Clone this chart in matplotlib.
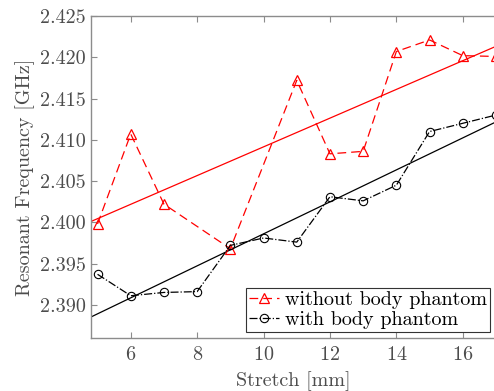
import numpy as np
import matplotlib
matplotlib.use("Agg")
import matplotlib.pyplot as plt

plt.rcParams['font.family'] = 'serif'
plt.rcParams['font.serif'] = ['cmr10']
plt.rcParams['mathtext.fontset'] = 'cm'
plt.rcParams['axes.formatter.use_mathtext'] = True

# measured resonant frequency vs. stretch
stretch_free = [5, 6, 7, 9, 11, 12, 13, 14, 15, 16, 17]
freq_free = [2.3998, 2.4107, 2.4022, 2.3968, 2.4172, 2.4083, 2.4086,
             2.4207, 2.4221, 2.4202, 2.4201]
stretch_body = [5, 6, 7, 8, 9, 10, 11, 12, 13, 14, 15, 16, 17]
freq_body = [2.3937, 2.3911, 2.3915, 2.3916, 2.3972, 2.3981, 2.3976,
             2.4031, 2.4026, 2.4045, 2.4110, 2.4120, 2.4130]

x_ticks = [6, 8, 10, 12, 14, 16]
y_ticks = [2.390, 2.395, 2.400, 2.405, 2.410, 2.415, 2.420, 2.425]

txt = '#4d4d4d'
spine = '#8c8c8c'

fig = plt.figure(figsize=(4.94, 3.91), dpi=100)
ax = fig.add_axes([0.184, 0.136, 0.82, 0.823])

xl = (4.8, 17.0)
xx = np.array([xl[0] - 1, xl[1] + 1])

# linear fits
p_free = np.polyfit(stretch_free, freq_free, 1)
p_body = np.polyfit(stretch_body, freq_body, 1)
ax.plot(xx, np.polyval(p_free, xx), '-', color='red', lw=0.9)
ax.plot(xx, np.polyval(p_body, xx), '-', color='black', lw=0.9)

ax.plot(stretch_free, freq_free, '--', color='red', lw=0.9, dashes=(7, 4),
        marker='^', ms=7, mfc='none', mew=0.9, label='without body phantom')
ax.plot(stretch_body, freq_body, '-.', color='black', lw=0.9,
        marker='o', ms=6, mfc='none', mew=0.8, label='with body phantom')

ax.set_xlim(*xl)
ax.set_ylim(2.386, 2.425)
ax.set_xticks(x_ticks)
ax.set_yticks(y_ticks)
ax.set_yticklabels(['%.3f' % v for v in y_ticks])
ax.tick_params(direction='in', top=True, right=False, labelsize=14.5,
               colors=txt, length=4, width=0.8, color=spine)
ax.tick_params(axis='x', pad=6)
for s in ax.spines.values():
    s.set_color(spine)
    s.set_linewidth(1.0)
ax.spines['right'].set_visible(False)

ax.set_xlabel('Stretch [mm]', fontsize=14.5, color=txt, labelpad=5)
ax.set_ylabel('Resonant Frequency [GHz]', fontsize=14.5, color=txt, labelpad=4)

leg = ax.legend(loc='lower right', fontsize=14.5, fancybox=False, framealpha=1,
                edgecolor='#333333', handlelength=1.5, handletextpad=0.3,
                borderpad=0.15, labelspacing=0.1, borderaxespad=0.3)
leg.get_frame().set_linewidth(0.8)

fig.savefig('out.png', dpi=100)
